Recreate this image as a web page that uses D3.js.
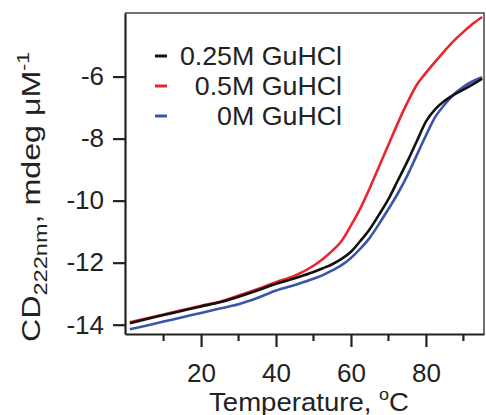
<!DOCTYPE html>
<html lang="en">
<head>
  <meta charset="UTF-8">
  <title>CD melt curves</title>
  <script src="https://d3js.org/d3.v7.min.js"></script>
  <style>
    body { margin: 0; background: white; }
    svg { display: block; font-family: 'Liberation Sans', Arial, sans-serif; }
  </style>
</head>
<body>
  <svg id="chart" width="486" height="415"></svg>
  <script>
    // temperatures (deg C)
    var temps = [1, 5, 10, 15, 20, 25, 30, 35, 40, 45, 50, 52.5, 55, 57.5, 60, 62.5, 65, 67.5, 70, 72.5, 75, 77.5, 80, 82.5, 85, 87.5, 90, 92.5, 95];
    var cd025 = [-13.95, -13.83, -13.69, -13.55, -13.41, -13.28, -13.1, -12.9, -12.68, -12.5, -12.3, -12.18, -12.05, -11.88, -11.65, -11.3, -10.92, -10.45, -9.95, -9.35, -8.75, -8.1, -7.45, -7.05, -6.78, -6.58, -6.42, -6.25, -6.07];
    var cd05  = [-13.92, -13.81, -13.67, -13.53, -13.39, -13.26, -13.06, -12.86, -12.63, -12.42, -12.1, -11.88, -11.62, -11.3, -10.8, -10.25, -9.6, -8.9, -8.2, -7.5, -6.85, -6.28, -5.88, -5.52, -5.17, -4.84, -4.56, -4.3, -4.08];
    var cd0   = [-14.15, -14.04, -13.9, -13.76, -13.62, -13.48, -13.34, -13.14, -12.9, -12.72, -12.52, -12.4, -12.25, -12.08, -11.85, -11.55, -11.2, -10.75, -10.27, -9.77, -9.2, -8.55, -7.9, -7.3, -6.9, -6.57, -6.33, -6.15, -6.02];
    var seriesNames = ["0.25M GuHCl", "0.5M GuHCl", "0M GuHCl"];
    var seriesColors = ["#111111", "#e8262d", "#3b55a8"];
    var xMajor = [20, 40, 60, 80];
    var xMinor = [10, 30, 50, 70, 90];
    var yTicks = [-14, -12, -10, -8, -6];

    var svg = d3.select("#chart");
    var mLeft = 125, mRight = 484, mTop = 13, mBottom = 334;

    var x = d3.scaleLinear().domain([-0.3, 95.5]).range([mLeft, mRight]);
    var y = d3.scaleLinear().domain([-14.3, -3.95]).range([mBottom, mTop]);

    // frame (top/right thin)
    svg.append("path")
      .attr("d", `M${mLeft},${mTop}H${mRight}V${mBottom}`)
      .attr("fill", "none").attr("stroke", "#444").attr("stroke-width", 1.5);

    var series = [cd025, cd05, cd0];
    var line = d3.line().x((d, i) => x(temps[i])).y(d => y(d)).curve(d3.curveMonotoneX);
    // blue, red, then black on top
    [2, 1, 0].forEach(function(k) {
      svg.append("path")
        .datum(series[k])
        .attr("d", line)
        .attr("fill", "none")
        .attr("stroke", seriesColors[k])
        .attr("stroke-width", 2.6)
        .attr("stroke-linejoin", "round");
    });

    // x axis
    var xAxis = svg.append("g").attr("transform", `translate(0,${mBottom})`)
      .call(d3.axisBottom(x).tickValues(xMajor).tickSize(13).tickSizeOuter(0).tickPadding(17));
    xAxis.append("g").selectAll("line").data(xMinor).join("line")
      .attr("x1", d => x(d)).attr("x2", d => x(d)).attr("y1", 0).attr("y2", 7);

    // y axis
    var yAxis = svg.append("g").attr("transform", `translate(${mLeft},0)`)
      .call(d3.axisLeft(y).tickValues(yTicks).tickSize(12).tickSizeOuter(0).tickPadding(9)
        .tickFormat(d => d.toString().replace("\u2212", "-")));

    [xAxis, yAxis].forEach(function(a) {
      a.select(".domain").attr("stroke", "#222").attr("stroke-width", 2.2);
      a.selectAll("line").attr("stroke", "#222").attr("stroke-width", 2.2);
      a.selectAll("text").attr("fill", "#222").style("font-size", "26px").attr("font-family", null);
    });
    xAxis.selectAll(".tick text").attr("dy", "0.71em");

    // axis titles
    var xt = svg.append("text")
      .attr("transform", "translate(309,411) scale(1.06,1)")
      .attr("text-anchor", "middle")
      .attr("fill", "#222").style("font-size", "26px");
    xt.append("tspan").text("Temperature, ");
    xt.append("tspan").attr("dy", -11).style("font-size", "17px").text("o");
    xt.append("tspan").attr("dy", 11).text("C");

    var yt = svg.append("text")
      .attr("transform", "translate(40,197) rotate(-90) scale(1.24,1)")
      .attr("text-anchor", "middle")
      .attr("fill", "#222").style("font-size", "26px");
    yt.append("tspan").text("CD");
    yt.append("tspan").attr("dy", 7).style("font-size", "19px").text("222nm");
    yt.append("tspan").attr("dy", -7).text(", mdeg \u03bcM");
    yt.append("tspan").attr("dy", -11).style("font-size", "17px").text("-1");

    // legend
    var legend = svg.append("g");
    seriesNames.forEach(function(name, i) {
      var yy = 56 + i * 30;
      legend.append("line")
        .attr("x1", 155).attr("x2", 167).attr("y1", yy).attr("y2", yy)
        .attr("stroke", seriesColors[i]).attr("stroke-width", 3);
      legend.append("text")
        .attr("transform", `translate(342,${yy + 9}) scale(1.03,1)`)
        .attr("text-anchor", "end")
        .attr("fill", "#222").style("font-size", "26px")
        .text(name);
    });
  </script>
</body>
</html>
